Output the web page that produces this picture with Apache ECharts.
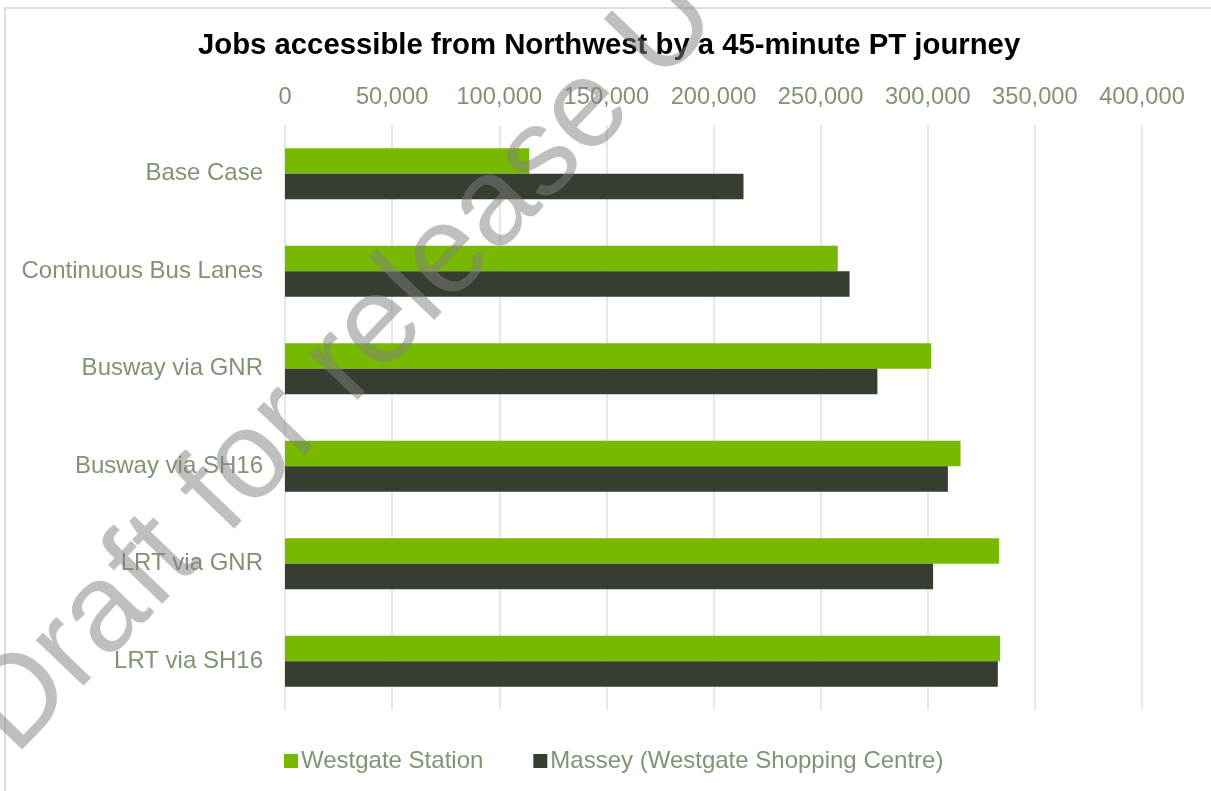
<!DOCTYPE html>
<html>
<head>
<meta charset="utf-8">
<style>
html,body{margin:0;padding:0;background:#fff;}
#chart{width:1211px;height:791px;}
</style>
<script src="https://cdn.jsdelivr.net/npm/echarts@6/dist/echarts.min.js"></script>
</head>
<body>
<div id="chart"></div>
<script>
const titleText = 'Jobs accessible from Northwest by a 45-minute PT journey';
const categories = ['Base Case', 'Continuous Bus Lanes', 'Busway via GNR', 'Busway via SH16', 'LRT via GNR', 'LRT via SH16'];
const seriesNames = ['Westgate Station', 'Massey (Westgate Shopping Centre)'];
const westgateStation = [114000, 258000, 301600, 315300, 333300, 333800];
const masseyShopping = [214000, 263500, 276500, 309400, 302500, 332700];
const axisMin = 0, axisMax = 400000, axisStep = 50000;
const watermarkText = 'Draft for release U';

const labelColor = '#7F9473';
const font = 'Liberation Sans, Arial, sans-serif';

const chart = echarts.init(document.getElementById('chart'), null, {renderer: 'canvas'});
chart.setOption({
  backgroundColor: '#ffffff',
  animation: false,
  title: {
    text: titleText,
    left: 198, top: 31, padding: 0,
    textStyle: {fontFamily: font, fontSize: 29.3, fontWeight: 'bold', color: '#000000'}
  },
  legend: {
    data: seriesNames,
    left: 284, top: 749, padding: 0,
    itemWidth: 14, itemHeight: 14, itemGap: 50,
    icon: 'rect',
    textStyle: {fontFamily: font, fontSize: 24, color: labelColor, padding: [0, 0, 0, -2]}
  },
  grid: {left: 285, right: 69, top: 125, bottom: 81, containLabel: false},
  xAxis: {
    type: 'value', position: 'top',
    min: axisMin, max: axisMax, interval: axisStep,
    axisLine: {show: false}, axisTick: {show: false},
    splitLine: {show: true, lineStyle: {color: '#DFE1DB', width: 1.5}},
    axisLabel: {
      margin: 16, fontFamily: font, fontSize: 23.7, color: labelColor,
      formatter: v => v.toLocaleString('en-US')
    }
  },
  yAxis: {
    type: 'category', data: categories, inverse: true,
    axisLine: {show: false}, axisTick: {show: false},
    axisLabel: {margin: 22, fontFamily: font, fontSize: 24, color: labelColor}
  },
  series: [
    {name: seriesNames[0], type: 'bar', data: westgateStation,
     barGap: '0%', barCategoryGap: '47.5%',
     itemStyle: {color: '#77B800'}},
    {name: seriesNames[1], type: 'bar', data: masseyShopping,
     barGap: '0%', barCategoryGap: '47.5%',
     itemStyle: {color: '#363D31'}}
  ],
  graphic: [
    {type: 'rect', z: 0, silent: true,
     shape: {x: 5, y: 8, width: 1400, height: 1000},
     style: {fill: 'none', stroke: '#DCDFD9', lineWidth: 2}},
    {type: 'text', z: 100, silent: true,
     x: -55, y: 690, rotation: 46.2 * Math.PI / 180,
     style: {text: watermarkText, fontFamily: font, fontSize: 125,
             fill: 'rgba(128,128,128,0.5)', textBaseline: 'alphabetic', textAlign: 'left'}}
  ]
});
</script>
</body>
</html>
